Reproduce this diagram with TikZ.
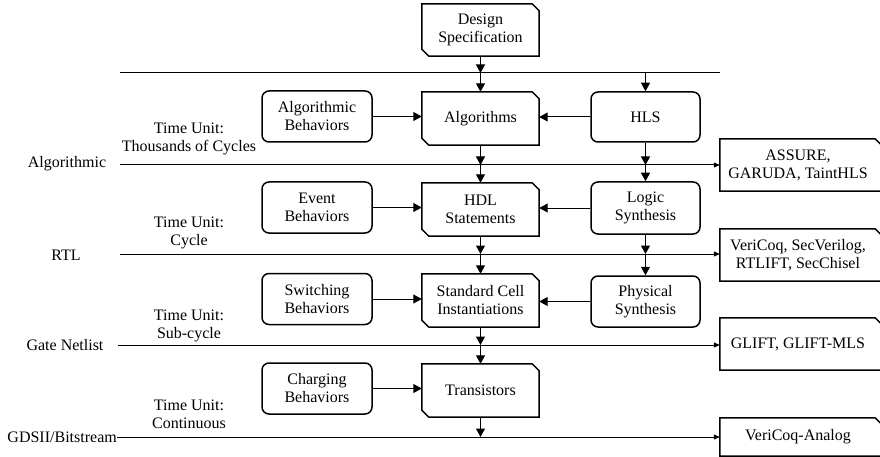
\documentclass[tikz,border=0pt]{standalone}
\usepackage{fontspec}
\setmainfont{Liberation Serif}
\newfontfamily\labelfont{Liberation Serif}
\usetikzlibrary{arrows.meta}

\tikzset{
  every node/.style={font=\labelfont\fontsize{16}{18}\selectfont, align=center, inner sep=0pt},
  levelbox/.style={rectangle, minimum width=117pt, minimum height=53pt},
  sidebox/.style={rectangle, draw, rounded corners=7pt, line width=1.5pt,
    minimum width=110pt, minimum height=51pt},
  toolbox/.style={rectangle, minimum width=162pt, minimum height=52pt},
  outline/.style={line width=1.5pt, line join=miter},
  flow/.style={line width=1pt, -{Triangle[length=8.5pt,width=9pt]}},
  feed/.style={line width=1pt, -{Triangle[length=6pt,width=5pt]}},
  level/.style={line width=1pt},
  timeunit/.style={anchor=center},
}

% outline with the top right and bottom left corners cut off
\newcommand\cutboth[1]{%
  \draw[outline] ([xshift=-7pt]#1.north east) -- ([yshift=-7pt]#1.north east)
    -- (#1.south east) -- ([xshift=7pt]#1.south west) -- ([yshift=7pt]#1.south west)
    -- (#1.north west) -- cycle;}
% outline with only the top right corner cut off
\newcommand\cuttop[1]{%
  \draw[outline] ([xshift=-7pt]#1.north east) -- ([yshift=-7pt]#1.north east)
    -- (#1.south east) -- (#1.south west) -- (#1.north west) -- cycle;}

\begin{document}
\begin{tikzpicture}[x=1pt,y=-1pt]
\useasboundingbox (0,0) rectangle (880,457);
\clip (0,0) rectangle (880,457);

% central design flow
\node[levelbox, minimum height=52pt] (spec)  at (480.5,30)    {Design\\Specification};
\node[levelbox] (algo)  at (480.5,118.5) {Algorithms};
\node[levelbox] (hdl)   at (480.5,209.5) {HDL\\Statements};
\node[levelbox] (cell)  at (480.5,300.5) {Standard Cell\\Instantiations};
\node[levelbox] (trans) at (480.5,390.5) {Transistors};
\cutboth{spec}
\cutboth{algo}
\cutboth{hdl}
\cutboth{cell}
\cutboth{trans}

% behaviours on the left
\node[sidebox] (algbeh) at (317,116.5) {Algorithmic\\Behaviors};
\node[sidebox] (evbeh)  at (317,207.5) {Event\\Behaviors};
\node[sidebox] (swbeh)  at (317,299)   {Switching\\Behaviors};
\node[sidebox] (chbeh)  at (317,388.5) {Charging\\Behaviors};

% synthesis steps on the right
\node[sidebox, minimum width=109pt, minimum height=50pt] (hls)   at (645.5,117)   {HLS};
\node[sidebox, minimum width=109pt, minimum height=52pt] (logic) at (645.5,208)   {Logic\\Synthesis};
\node[sidebox, minimum width=109pt] (phys)  at (645.5,301.5) {Physical\\Synthesis};

% verification tools
\node[toolbox] (assure)  at (801,165) {\hspace*{-6pt}ASSURE,\\\hspace*{-6pt}GARUDA, TaintHLS};
\node[toolbox] (vericoq) at (801,255) {\hspace*{-6pt}VeriCoq, SecVerilog,\\\hspace*{-6pt}RTLIFT, SecChisel};
\node[toolbox] (glift)   at (801,344) {\hspace*{-6pt}GLIFT, GLIFT-MLS};
\node[toolbox, minimum height=38pt] (analog) at (801,437) {\hspace*{-6pt}VeriCoq-Analog};
\cuttop{assure}
\cuttop{vericoq}
\cuttop{glift}
\cuttop{analog}

% abstraction level names
\node (lalg)  at (67,164)  {Algorithmic};
\node (lrtl)  at (66,255)  {RTL};
\node (lgate) at (65,345)  {Gate Netlist};
\node[anchor=east] (lgds) at (117,437) {GDSII/Bitstream};

% time units
\node[timeunit] (tu1) at (189,139) {Time Unit:\\Thousands of Cycles};
\node[timeunit] (tu2) at (189,233) {Time Unit:\\Cycle};
\node[timeunit] (tu3) at (189,326) {Time Unit:\\Sub-cycle};
\node[timeunit] (tu4) at (189,414) {Time Unit:\\Continuous};

% level boundaries
\coordinate (top0) at (120,73);
\coordinate (top1) at (720,73);
\coordinate (s1) at (120,165);
\coordinate (s2) at (120,254);
\coordinate (s3) at (118,345);

\draw[level] (top0) -- (top1);
\draw[feed] (s1) -- (s1 -| assure.west);
\draw[feed] (s2) -- (s2 -| vericoq.west);
\draw[feed] (s3) -- (s3 -| glift.west);
\draw[feed] (lgds.east) -- (lgds.east -| analog.west);

% crossing points on the boundaries
\coordinate (c0) at (480.5,73);
\coordinate (h0) at (645.5,73);
\coordinate (c1) at (480.5,165);
\coordinate (h1) at (645.5,165);
\coordinate (c2) at (480.5,254);
\coordinate (h2) at (645.5,254);
\coordinate (c3) at (480.5,345);
\coordinate (c4) at (480.5,437);

% vertical flow
\draw[flow] (spec.south) -- (c0);
\draw[flow] (c0) -- (algo.north);
\draw[flow] (h0) -- (hls.north);
\draw[flow] (algo.south) -- (c1);
\draw[flow] (c1) -- (hdl.north);
\draw[flow] (hls.south) -- (h1);
\draw[flow] (h1) -- (logic.north);
\draw[flow] (hdl.south) -- (c2);
\draw[flow] (c2) -- (cell.north);
\draw[flow] (logic.south) -- (h2);
\draw[flow] (h2) -- (phys.north);
\draw[flow] (cell.south) -- (c3);
\draw[flow] (c3) -- (trans.north);
\draw[flow] (trans.south) -- (c4);

% horizontal feeds into the design flow
\draw[flow] (algbeh.east) -- (algbeh.east -| algo.west);
\draw[flow] (hls.west) -- (hls.west -| algo.east);
\draw[flow] (evbeh.east) -- (evbeh.east -| hdl.west);
\draw[flow] (logic.west) -- (logic.west -| hdl.east);
\draw[flow] (swbeh.east) -- (swbeh.east -| cell.west);
\draw[flow] (phys.west) -- (phys.west -| cell.east);
\draw[flow] (chbeh.east) -- (chbeh.east -| trans.west);
\end{tikzpicture}
\end{document}
